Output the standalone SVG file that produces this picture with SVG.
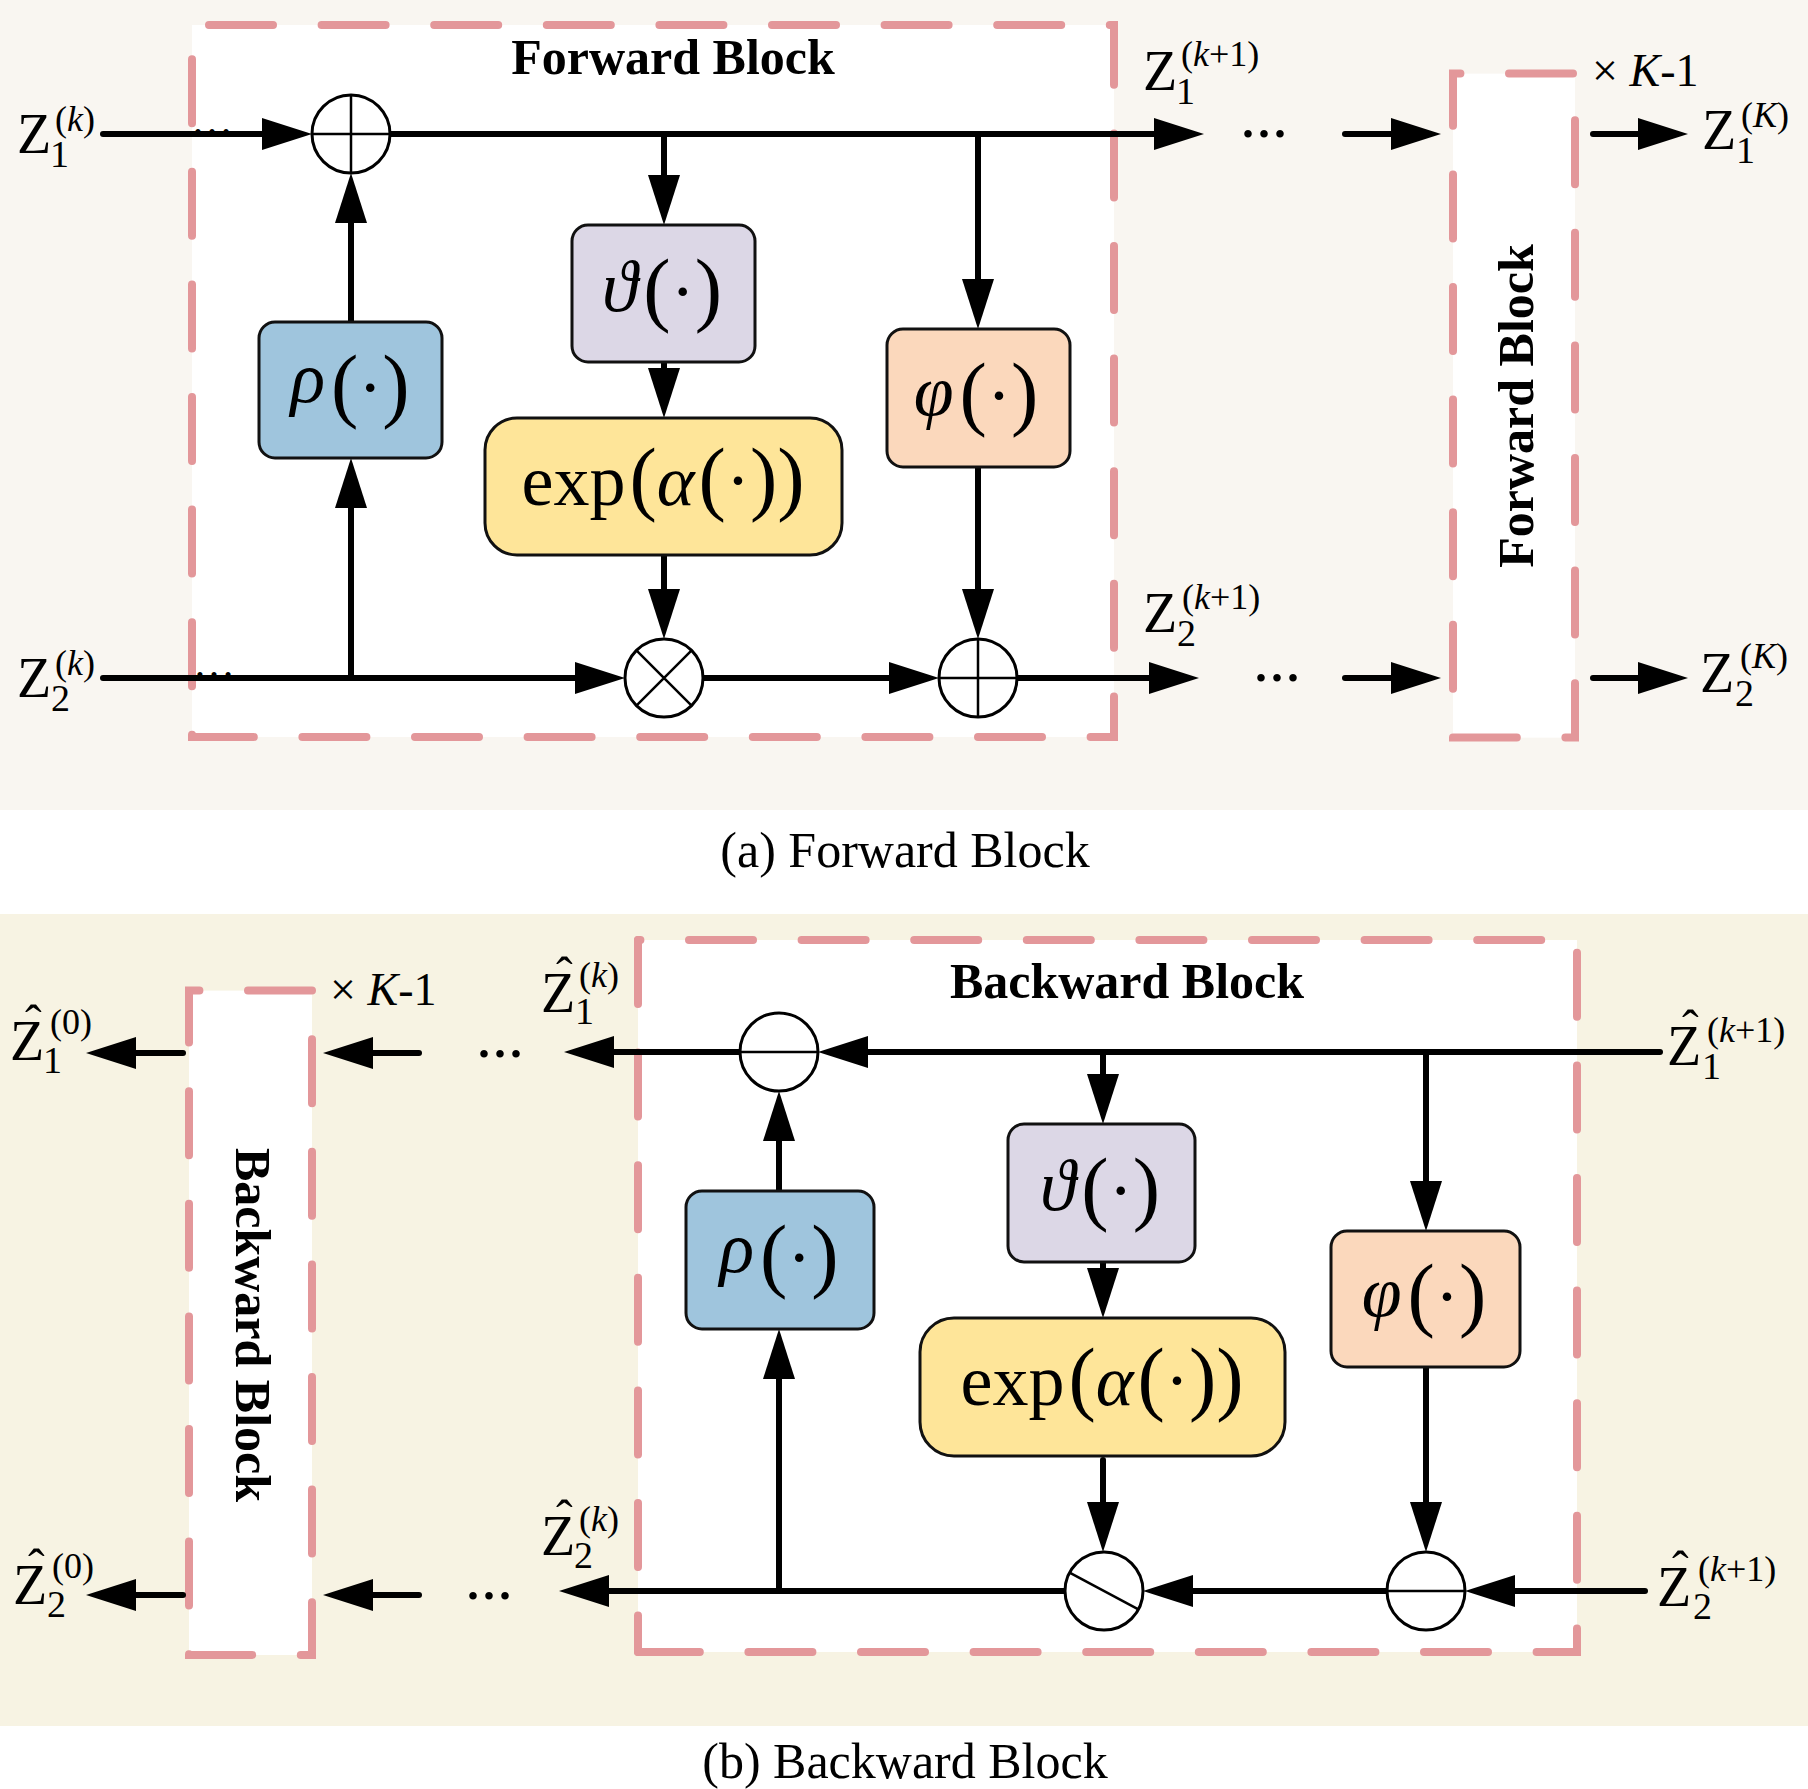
<svg xmlns="http://www.w3.org/2000/svg" width="1808" height="1789" viewBox="0 0 1808 1789">
<defs>
<style>
text { font-family: "Liberation Serif","Times New Roman","DejaVu Serif",serif; fill:#000; }
.it { font-style: italic; }
.title { font-size:50px; font-weight:bold; }
.cap { font-size:50px; }
.fn { font-size:72px; }
.par { font-size:82px; }
.zl { font-size:56px; }
.sb { font-size:38px; }
.sp { font-size:36px; }
.hat { font-size:50px; }
.km { font-size:46px; }
.dots { font-size:64px; }
.tdots { font-size:42px; }
.dash { fill:none; stroke:#e3979a; stroke-width:8; stroke-linecap:round; stroke-dasharray:64 48.6; }
.blk { fill:#ffffff; }
.box { stroke:#111; stroke-width:3; }
.rho { fill:#9fc5dd; }
.theta { fill:#dcd7e6; }
.expf { fill:#fee599; }
.phi { fill:#fbd8bc; }
.op { fill:#ffffff; stroke:#000; stroke-width:3; }
.opl { stroke:#000; stroke-width:2.5; fill:none; }
.cn { stroke:#000; stroke-width:6; stroke-linecap:round; fill:none; marker-end:url(#ah); }
</style>
<marker id="ah" viewBox="0 0 50 32" markerWidth="50" markerHeight="32" markerUnits="userSpaceOnUse" refX="20" refY="16" orient="auto"><path d="M0 0 L50 16 L0 32 Z" fill="#000"/></marker>
</defs>

<!-- backgrounds -->
<rect x="0" y="0" width="1808" height="1789" fill="#ffffff"/>
<rect x="0" y="0" width="1808" height="810" fill="#f9f6f1"/>
<rect x="0" y="914" width="1808" height="812" fill="#f7f3e3"/>

<!-- dashed blocks -->
<g id="forward-block">
<rect class="blk" x="192" y="25" width="922" height="712"/>
<path class="dash" d="M192 25 H1114 V737 H192 Z" stroke-dashoffset="95.6"/>
<text class="title" x="673" y="74" text-anchor="middle">Forward Block</text>
</g>
<g id="forward-block-repeat">
<rect class="blk" x="1453" y="73.6" width="122" height="664"/>
<path class="dash" d="M1453 73.6 H1575 V737.6 H1453 Z" stroke-dashoffset="56.6"/>
<text class="title" transform="translate(1533,406) rotate(-90)" text-anchor="middle">Forward Block</text>
</g>
<g id="backward-block">
<rect class="blk" x="638" y="940" width="939" height="712"/>
<path class="dash" d="M638 940 H1577 V1652 H638" stroke-dashoffset="61.6"/>
<path class="dash" d="M638 940 V1652" stroke-dashoffset="0"/>
<text class="title" x="1127" y="998" text-anchor="middle">Backward Block</text>
</g>
<g id="backward-block-repeat">
<rect class="blk" x="189" y="990.6" width="123" height="664.4"/>
<path class="dash" d="M189 990.6 H312 V1655 H189 Z" stroke-dashoffset="53.6"/>
<text class="title" transform="translate(236,1325) rotate(90)" text-anchor="middle">Backward Block</text>
</g>

<!-- tiny dots on inputs -->
<text class="tdots" x="191" y="134">…</text>
<text class="tdots" x="193" y="677">…</text>

<!-- connectors -->
<g id="connectors">
<line class="cn" x1="103" y1="134" x2="282" y2="134"/>
<line class="cn" x1="390" y1="134" x2="1174" y2="134"/>
<line class="cn" x1="664" y1="134" x2="664" y2="195"/>
<line class="cn" x1="978" y1="134" x2="978" y2="299"/>
<line class="cn" x1="351" y1="322" x2="351" y2="203"/>
<line class="cn" x1="664" y1="362" x2="664" y2="388"/>
<line class="cn" x1="664" y1="555" x2="664" y2="609"/>
<line class="cn" x1="978" y1="467" x2="978" y2="609"/>
<line class="cn" x1="103" y1="678" x2="595" y2="678"/>
<line class="cn" x1="351" y1="678" x2="351" y2="488"/>
<line class="cn" x1="703" y1="678" x2="909" y2="678"/>
<line class="cn" x1="1017" y1="678" x2="1169" y2="678"/>
<line class="cn" x1="1345" y1="134" x2="1411" y2="134"/>
<line class="cn" x1="1345" y1="678" x2="1411" y2="678"/>
<line class="cn" x1="1593" y1="134" x2="1658" y2="134"/>
<line class="cn" x1="1593" y1="678" x2="1658" y2="678"/>

<line class="cn" x1="1660" y1="1052" x2="848" y2="1052"/>
<line class="cn" x1="1103" y1="1052" x2="1103" y2="1094"/>
<line class="cn" x1="1426" y1="1052" x2="1426" y2="1201"/>
<line class="cn" x1="1103" y1="1262" x2="1103" y2="1288"/>
<line class="cn" x1="1103" y1="1460" x2="1103" y2="1522"/>
<line class="cn" x1="1426" y1="1367" x2="1426" y2="1522"/>
<line class="cn" x1="1645" y1="1591" x2="1495" y2="1591"/>
<line class="cn" x1="1387" y1="1591" x2="1173" y2="1591"/>
<line class="cn" x1="1065" y1="1591" x2="589" y2="1591"/>
<line class="cn" x1="779" y1="1591" x2="779" y2="1359"/>
<line class="cn" x1="779" y1="1191" x2="779" y2="1121"/>
<line class="cn" x1="740" y1="1052" x2="594" y2="1052"/>
<line class="cn" x1="419" y1="1053" x2="353" y2="1053"/>
<line class="cn" x1="419" y1="1595" x2="353" y2="1595"/>
<line class="cn" x1="183" y1="1053" x2="116" y2="1053"/>
<line class="cn" x1="183" y1="1595" x2="116" y2="1595"/>
</g>

<!-- top panel nodes -->
<g id="add1">
<circle class="op" cx="351" cy="134" r="39"/>
<path class="opl" d="M312 134 H390 M351 95 V173"/>
</g>
<g id="rho-f">
<rect class="box rho" x="259" y="322" width="183" height="136" rx="16"/>
<text class="fn" x="350" y="412" text-anchor="middle"><tspan class="it" dy="-10">ρ</tspan><tspan class="par" dx="6" dy="10">(</tspan>·<tspan class="par">)</tspan></text>
</g>
<g id="theta-f">
<rect class="box theta" x="572" y="225" width="183" height="137" rx="16"/>
<text class="fn" x="662" y="316" text-anchor="middle"><tspan class="it" dy="-5">ϑ</tspan><tspan class="par" dx="6" dy="5">(</tspan>·<tspan class="par">)</tspan></text>
</g>
<g id="exp-f">
<rect class="box expf" x="485" y="418" width="357" height="137" rx="32"/>
<text class="fn" x="663" y="505" text-anchor="middle">exp<tspan class="par" dx="4">(</tspan><tspan class="it">α</tspan><tspan class="par" dx="4">(</tspan>·<tspan class="par">))</tspan></text>
</g>
<g id="phi-f">
<rect class="box phi" x="887" y="329" width="183" height="138" rx="16"/>
<text class="fn" x="976" y="420" text-anchor="middle"><tspan class="it" dy="-5">φ</tspan><tspan class="par" dx="6" dy="5">(</tspan>·<tspan class="par">)</tspan></text>
</g>
<g id="mul-f">
<circle class="op" cx="664" cy="678" r="39"/>
<path class="opl" d="M636.4 650.4 L691.6 705.6 M691.6 650.4 L636.4 705.6"/>
</g>
<g id="add2">
<circle class="op" cx="978" cy="678" r="39"/>
<path class="opl" d="M939 678 H1017 M978 639 V717"/>
</g>

<!-- top panel labels -->
<text id="lbl-z1k" class="zl" x="17" y="153">Z<tspan class="sb" x="50" y="167">1</tspan><tspan class="sp" x="55" y="131">(<tspan class="it">k</tspan>)</tspan></text>
<text id="lbl-z2k" class="zl" x="17" y="697">Z<tspan class="sb" x="51" y="711">2</tspan><tspan class="sp" x="55" y="675">(<tspan class="it">k</tspan>)</tspan></text>
<text id="lbl-z1k1" class="zl" x="1143" y="90">Z<tspan class="sb" x="1176" y="104">1</tspan><tspan class="sp" x="1181" y="66">(<tspan class="it">k</tspan>+1)</tspan></text>
<text id="lbl-z2k1" class="zl" x="1143" y="632">Z<tspan class="sb" x="1177" y="646">2</tspan><tspan class="sp" x="1182" y="609">(<tspan class="it">k</tspan>+1)</tspan></text>
<text id="lbl-z1K" class="zl" x="1702" y="149">Z<tspan class="sb" x="1736" y="163">1</tspan><tspan class="sp" x="1741" y="127">(<tspan class="it">K</tspan>)</tspan></text>
<text id="lbl-z2K" class="zl" x="1700" y="692">Z<tspan class="sb" x="1735" y="706">2</tspan><tspan class="sp" x="1740" y="668">(<tspan class="it">K</tspan>)</tspan></text>
<text class="km" x="1592" y="86">× <tspan class="it">K</tspan>-1</text>
<text class="dots" x="1240" y="137">...</text>
<text class="dots" x="1253" y="681">...</text>
<text class="cap" x="905" y="867" text-anchor="middle">(a) Forward Block</text>

<!-- bottom panel nodes -->
<g id="sub1">
<circle class="op" cx="779" cy="1052" r="39"/>
<path class="opl" d="M740 1052 H818"/>
</g>
<g id="rho-b">
<rect class="box rho" x="686" y="1191" width="188" height="138" rx="16"/>
<text class="fn" x="779" y="1282" text-anchor="middle"><tspan class="it" dy="-10">ρ</tspan><tspan class="par" dx="6" dy="10">(</tspan>·<tspan class="par">)</tspan></text>
</g>
<g id="theta-b">
<rect class="box theta" x="1008" y="1124" width="187" height="138" rx="16"/>
<text class="fn" x="1100" y="1215" text-anchor="middle"><tspan class="it" dy="-5">ϑ</tspan><tspan class="par" dx="6" dy="5">(</tspan>·<tspan class="par">)</tspan></text>
</g>
<g id="exp-b">
<rect class="box expf" x="920" y="1318" width="365" height="138" rx="34"/>
<text class="fn" x="1102" y="1405" text-anchor="middle">exp<tspan class="par" dx="4">(</tspan><tspan class="it">α</tspan><tspan class="par" dx="4">(</tspan>·<tspan class="par">))</tspan></text>
</g>
<g id="phi-b">
<rect class="box phi" x="1331" y="1231" width="189" height="136" rx="16"/>
<text class="fn" x="1424" y="1321" text-anchor="middle"><tspan class="it" dy="-5">φ</tspan><tspan class="par" dx="6" dy="5">(</tspan>·<tspan class="par">)</tspan></text>
</g>
<g id="div-b">
<circle class="op" cx="1104" cy="1591" r="39"/>
<path class="opl" d="M1069.6 1572.7 L1138.4 1609.3"/>
</g>
<g id="sub2">
<circle class="op" cx="1426" cy="1591" r="39"/>
<path class="opl" d="M1387 1591 H1465"/>
</g>

<!-- bottom panel labels -->
<text id="lbl-zh10" class="zl" x="10" y="1060">Z<tspan class="hat" x="25" y="1040">ˆ</tspan><tspan class="sb" x="43" y="1073">1</tspan><tspan class="sp" x="50" y="1034">(0)</tspan></text>
<text id="lbl-zh20" class="zl" x="13" y="1604">Z<tspan class="hat" x="28" y="1584">ˆ</tspan><tspan class="sb" x="47" y="1617">2</tspan><tspan class="sp" x="52" y="1578">(0)</tspan></text>
<text id="lbl-zh1k" class="zl" x="541" y="1012">Z<tspan class="hat" x="556" y="992">ˆ</tspan><tspan class="sb" x="575" y="1024">1</tspan><tspan class="sp" x="579" y="987">(<tspan class="it">k</tspan>)</tspan></text>
<text id="lbl-zh2k" class="zl" x="541" y="1555">Z<tspan class="hat" x="556" y="1535">ˆ</tspan><tspan class="sb" x="574" y="1568">2</tspan><tspan class="sp" x="579" y="1531">(<tspan class="it">k</tspan>)</tspan></text>
<text id="lbl-zh1k1" class="zl" x="1667" y="1065">Z<tspan class="hat" x="1682" y="1045">ˆ</tspan><tspan class="sb" x="1702" y="1079">1</tspan><tspan class="sp" x="1707" y="1042">(<tspan class="it">k</tspan>+1)</tspan></text>
<text id="lbl-zh2k1" class="zl" x="1657" y="1606">Z<tspan class="hat" x="1672" y="1586">ˆ</tspan><tspan class="sb" x="1693" y="1619">2</tspan><tspan class="sp" x="1698" y="1581">(<tspan class="it">k</tspan>+1)</tspan></text>
<text class="km" x="330" y="1005">× <tspan class="it">K</tspan>-1</text>
<text class="dots" x="476" y="1057">...</text>
<text class="dots" x="465" y="1599">...</text>
<text class="cap" x="905" y="1778" text-anchor="middle">(b) Backward Block</text>
</svg>
